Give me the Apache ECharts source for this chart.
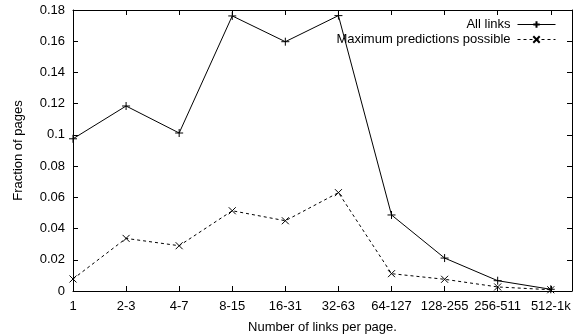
<!DOCTYPE html>
<html>
<head>
<meta charset="utf-8">
<script src="https://cdn.jsdelivr.net/npm/echarts@6/dist/echarts.min.js"></script>
<style>
  html, body { margin: 0; padding: 0; background: #fff; }
  #chart { width: 578px; height: 334px; }
</style>
</head>
<body>
<div id="chart"></div>
<script>
// categories along x (bins of links per page)
const categories = ['1', '2-3', '4-7', '8-15', '16-31', '32-63', '64-127', '128-255', '256-511', '512-1k'];
const allLinks = [0.0975, 0.1185, 0.1012, 0.1762, 0.1597, 0.1764, 0.0487, 0.0211, 0.0066, 0.0011];
const maxPredictions = [0.0077, 0.0337, 0.0290, 0.0514, 0.0450, 0.0630, 0.0111, 0.0075, 0.0026, 0.0008];
const yTicks = [0, 0.02, 0.04, 0.06, 0.08, 0.1, 0.12, 0.14, 0.16, 0.18];

const font = 'Liberation Sans, Arial, sans-serif';
const fs = 13;
const plus = 'path://M0,-5 L0,5 M-5,0 L5,0';
const cross = 'path://M-4,-4 L4,4 M-4,4 L4,-4';

const chart = echarts.init(document.getElementById('chart'));

const xBase = {
    type: 'value',
    min: 0,
    max: 9.4,
    interval: 1,
    axisLine: { show: true, onZero: false, lineStyle: { color: '#000', width: 1 } },
    axisTick: { show: true, inside: true, length: 5, lineStyle: { color: '#000' } },
    splitLine: { show: false }
};
const yBase = {
    type: 'value',
    min: yTicks[0],
    max: yTicks[yTicks.length - 1],
    interval: 0.02,
    axisLine: { show: true, onZero: false, lineStyle: { color: '#000', width: 1 } },
    axisTick: { show: true, inside: true, length: 5, lineStyle: { color: '#000' } },
    splitLine: { show: false }
};

const option = {
    animation: false,
    textStyle: { fontFamily: font },
    grid: { left: 73, right: 6, top: 10, bottom: 43, containLabel: false, outerBoundsMode: 'none' },
    legend: {
        orient: 'vertical',
        right: 17,
        top: 13,
        align: 'right',
        itemWidth: 38,
        itemHeight: 8,
        itemGap: 2,
        lineStyle: { width: 1 },
        textStyle: { fontFamily: font, fontSize: fs, color: '#000', padding: [0, 2, 0, 0] },
        data: ['All links', 'Maximum predictions possible']
    },
    xAxis: [
        Object.assign({}, xBase, {
            position: 'bottom',
            name: 'Number of links per page.',
            nameLocation: 'middle',
            nameGap: 30,
            nameTextStyle: { fontFamily: font, fontSize: fs, color: '#000' },
            axisLabel: {
                margin: 9,
                fontFamily: font,
                fontSize: fs,
                color: '#000',
                formatter: v => (Number.isInteger(v) && categories[v] !== undefined) ? categories[v] : ''
            }
        }),
        Object.assign({}, xBase, { position: 'top', axisLabel: { show: false } })
    ],
    yAxis: [
        Object.assign({}, yBase, {
            position: 'left',
            name: 'Fraction of pages',
            nameLocation: 'middle',
            nameGap: 48,
            nameTextStyle: { fontFamily: font, fontSize: fs, color: '#000' },
            axisLabel: { margin: 8, fontFamily: font, fontSize: fs, color: '#000' }
        }),
        Object.assign({}, yBase, { position: 'right', axisLabel: { show: false } })
    ],
    series: [
        {
            name: 'All links',
            type: 'line',
            xAxisIndex: 0,
            yAxisIndex: 0,
            data: allLinks.map((v, i) => [i, v]),
            symbol: plus,
            symbolSize: 8,
            showAllSymbol: true,
            lineStyle: { color: '#000', width: 1, type: 'solid' },
            itemStyle: { color: 'transparent', borderColor: '#000', borderWidth: 1 }
        },
        {
            name: 'Maximum predictions possible',
            type: 'line',
            xAxisIndex: 0,
            yAxisIndex: 0,
            data: maxPredictions.map((v, i) => [i, v]),
            symbol: cross,
            symbolSize: 7,
            showAllSymbol: true,
            lineStyle: { color: '#000', width: 1, type: [3, 3] },
            itemStyle: { color: 'transparent', borderColor: '#000', borderWidth: 1 }
        }
    ]
};

chart.setOption(option);
window.addEventListener('resize', () => chart.resize());
</script>
</body>
</html>
